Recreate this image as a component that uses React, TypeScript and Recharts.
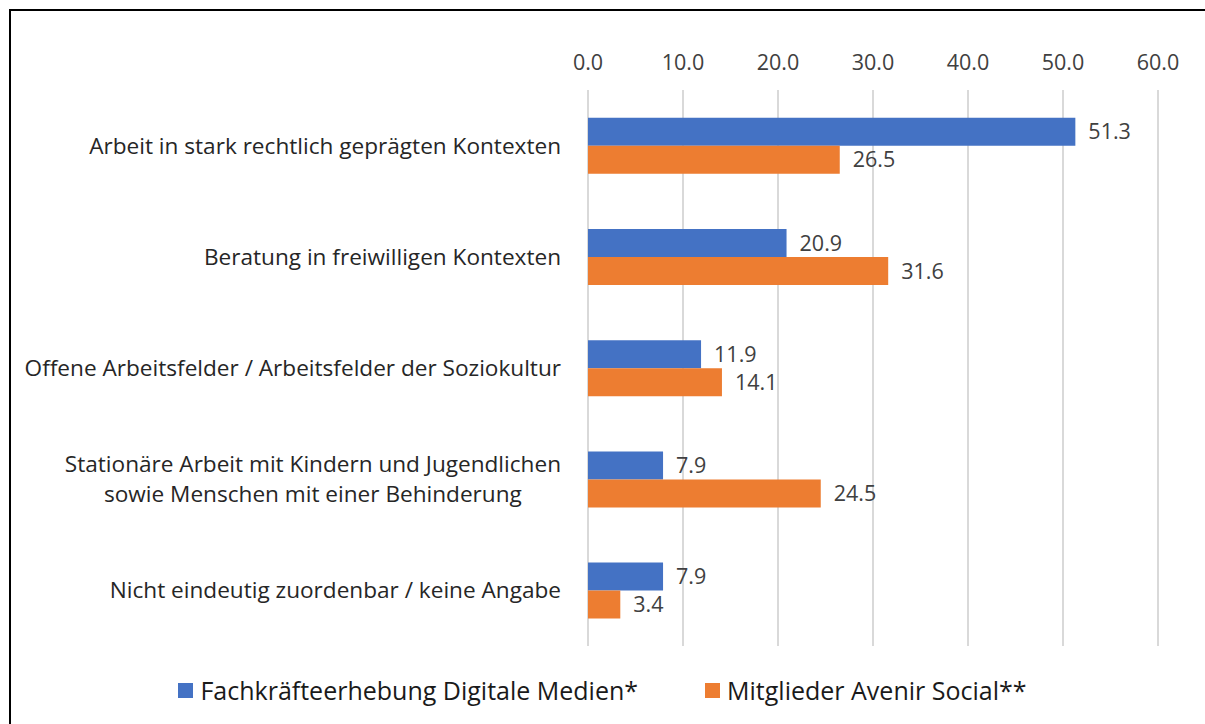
import React, { useLayoutEffect, useRef, useState } from "react";
import { BarChart, Bar, XAxis, YAxis, CartesianGrid, LabelList } from "recharts";

const categories = [
  "Arbeit in stark rechtlich geprägten Kontexten",
  "Beratung in freiwilligen Kontexten",
  "Offene Arbeitsfelder / Arbeitsfelder der Soziokultur",
  "Stationäre Arbeit mit Kindern und Jugendlichen\nsowie Menschen mit einer Behinderung",
  "Nicht eindeutig zuordenbar / keine Angabe",
];
const seriesNames = ["Fachkräfteerhebung Digitale Medien*", "Mitglieder Avenir Social**"];
const fachkraefte = [51.3, 20.9, 11.9, 7.9, 7.9];
const avenir = [26.5, 31.6, 14.1, 24.5, 3.4];
const xTicks = [0, 10, 20, 30, 40, 50, 60];
const colors = ["#4472C4", "#ED7D31"];

const data = categories.map((c, i) => ({ name: c, a: fachkraefte[i], b: avenir[i] }));

const FONT = "'Open Sans', sans-serif";

function CategoryTick(props: any) {
  const { x, y, payload } = props;
  const lines: string[] = String(payload.value).split("\n");
  const ref = useRef<SVGGElement>(null);
  const [maxW, setMaxW] = useState<number | null>(null);
  useLayoutEffect(() => {
    if (!ref.current) return;
    const texts = ref.current.querySelectorAll("text");
    let m = 0;
    texts.forEach((t) => {
      m = Math.max(m, (t as SVGTextElement).getComputedTextLength());
    });
    if (maxW === null || Math.abs(m - maxW) > 0.5) setMaxW(m);
  });
  const lh = 30;
  const startY = y - ((lines.length - 1) * lh) / 2;
  const multi = lines.length > 1 && maxW !== null;
  return (
    <g ref={ref}>
      {lines.map((l, i) => (
        <text
          key={i}
          x={multi ? x - (maxW as number) / 2 : x}
          y={startY + i * lh}
          dy="0.35em"
          textAnchor={multi ? "middle" : "end"}
          fontFamily={FONT}
          fontSize={22.6}
          fill="#262626"
        >
          {l}
        </text>
      ))}
    </g>
  );
}

export default function App() {
  return (
    <div style={{ position: "absolute", left: 0, top: 0, width: 1205, height: 724, background: "#fff", fontFamily: FONT }}>
      <div style={{ position: "absolute", left: 9, top: 9, width: 1196, height: 715, borderLeft: "2px solid #000", borderTop: "2px solid #000" }} />
      <div style={{ position: "absolute", left: 0, top: 0 }}>
        <BarChart
          width={1205}
          height={724}
          data={data}
          layout="vertical"
          margin={{ top: 50, right: 47, bottom: 78, left: 0 }}
          barCategoryGap="25%"
          barGap={0}
        >
          <CartesianGrid horizontal={false} stroke="#D9D9D9" strokeWidth={2} />
          <XAxis
            type="number"
            orientation="top"
            domain={[0, 60]}
            ticks={xTicks}
            height={40}
            axisLine={false}
            tickLine={false}
            tickMargin={14}
            tickFormatter={(v: number) => v.toFixed(1)}
            tick={{ fontFamily: FONT, fontSize: 21.5, fill: "#404040" }}
          />
          <YAxis
            type="category"
            dataKey="name"
            width={588}
            axisLine={false}
            tickLine={false}
            tickMargin={21}
            interval={0}
            tick={<CategoryTick />}
          />
          <Bar dataKey="a" name={seriesNames[0]} fill={colors[0]} isAnimationActive={false}>
            <LabelList
              dataKey="a"
              position="right"
              offset={13}
              formatter={(v: any) => Number(v).toFixed(1)}
              style={{ fontFamily: FONT, fontSize: 21.5, fill: "#404040" }}
            />
          </Bar>
          <Bar dataKey="b" name={seriesNames[1]} fill={colors[1]} isAnimationActive={false}>
            <LabelList
              dataKey="b"
              position="right"
              offset={13}
              formatter={(v: any) => Number(v).toFixed(1)}
              style={{ fontFamily: FONT, fontSize: 21.5, fill: "#404040" }}
            />
          </Bar>
        </BarChart>
      </div>
      <div
        style={{
          position: "absolute",
          left: 0,
          top: 673,
          width: 1205,
          height: 34,
          display: "flex",
          justifyContent: "center",
          alignItems: "center",
          gap: 67,
          fontSize: 25,
          lineHeight: "34px",
          color: "#1a1a1a",
          whiteSpace: "nowrap",
        }}
      >
        {seriesNames.map((n, i) => (
          <div key={n} style={{ display: "flex", alignItems: "center" }}>
            <span style={{ display: "inline-block", width: 15, height: 15, background: colors[i], marginRight: 7 }} />
            <span>{n}</span>
          </div>
        ))}
      </div>
    </div>
  );
}
